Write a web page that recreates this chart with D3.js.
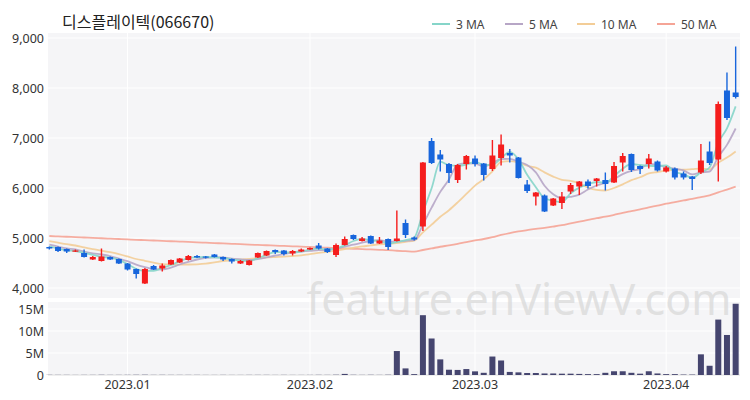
<!DOCTYPE html>
<html><head><meta charset="utf-8">
<script src="https://cdn.jsdelivr.net/npm/d3@7"></script>
<style>body{margin:0;background:#fff}svg{display:block}</style>
</head><body>
<svg id="c" width="750" height="400"></svg>
<script>
const title = "디스플레이텍(066670)";
const dates = ["12-20","12-21","12-22","12-23","12-26","12-27","12-28","12-29","12-30",
 "01-02","01-03","01-04","01-05","01-06","01-09","01-10","01-11","01-12","01-13",
 "01-16","01-17","01-18","01-19","01-20","01-25","01-26","01-27","01-30","01-31",
 "02-01","02-02","02-03","02-06","02-07","02-08","02-09","02-10","02-13","02-14","02-15","02-16","02-17",
 "02-20","02-21","02-22","02-23","02-24","02-27","02-28",
 "03-02","03-03","03-06","03-07","03-08","03-09","03-10","03-13","03-14","03-15","03-16","03-17",
 "03-20","03-21","03-22","03-23","03-24","03-27","03-28","03-29","03-30","03-31",
 "04-03","04-04","04-05","04-06","04-07","04-10","04-11","04-12","04-13"];
const openV  = [4820,4820,4780,4730,4700,4570,4540,4620,4580,4490,4380,4090,4440,4390,4470,4510,4560,4640,4630,4670,
 4620,4580,4490,4460,4610,4650,4760,4750,4690,4730,4770,4850,4790,4660,4860,5060,4940,5040,4890,4980,
 4940,5300,5010,5230,6940,6670,6480,6160,6480,6590,6490,6380,6600,6700,6610,6070,5830,5850,5650,5700,
 5930,6030,6130,6140,6160,6110,6510,6680,6440,6480,6530,6330,6390,6290,6230,6310,6730,6570,7950,7910];
const highV  = [4830,4830,4790,4770,4770,4640,4790,4630,4590,4500,4390,4400,4460,4490,4570,4600,4660,4660,4640,4680,
 4630,4590,4560,4560,4710,4750,4770,4760,4760,4790,4810,4900,4800,4890,5030,5070,5020,5050,5020,4990,
 5550,5370,5030,6520,7000,6760,6500,6480,6660,6650,6500,6960,7070,6780,6620,6160,5920,5870,5800,5920,
 6100,6140,6170,6200,6310,6520,6700,6690,6450,6680,6550,6440,6410,6330,6240,6880,6930,7730,8310,8830];
const lowV   = [4770,4720,4700,4720,4610,4560,4530,4560,4480,4350,4190,4080,4360,4330,4460,4500,4550,4600,4590,4610,
 4540,4490,4480,4450,4600,4640,4680,4650,4650,4720,4760,4770,4700,4620,4850,4960,4930,4880,4880,4760,
 4930,5000,4950,5140,6480,6330,6100,6100,6370,6430,6150,6340,6450,6510,6190,5900,5650,5520,5640,5580,
 5880,5860,5990,6030,5950,6100,6330,6320,6280,6390,6330,6310,6170,6170,5960,6280,6460,6130,7360,7790];
const closeV = [4790,4740,4730,4750,4620,4620,4630,4570,4490,4370,4280,4380,4370,4450,4560,4590,4640,4610,4610,4620,
 4570,4530,4540,4550,4700,4740,4720,4680,4740,4770,4800,4790,4720,4860,4980,4980,4990,4890,4950,4820,
 4990,5060,4970,6510,6500,6570,6300,6460,6640,6480,6260,6650,6870,6650,6200,5940,5910,5530,5790,5830,
 6060,6130,6040,6190,6080,6440,6640,6360,6380,6590,6350,6410,6210,6210,6180,6550,6500,7680,7400,7820];
// closes of the days just before the visible window (estimated from where the MA lines start)
const priorCloses = [5060,5040,5010,4990,4960,4930,4900,4870,4840];
const volumeM = [0.04,0.03,0.03,0.02,0.03,0.03,0.05,0.03,0.03,0.04,0.05,0.06,0.03,0.04,0.03,0.03,0.03,0.03,0.02,0.02,
 0.03,0.02,0.02,0.03,0.03,0.03,0.02,0.03,0.02,0.02,0.03,0.04,0.03,0.06,0.25,0.05,0.03,0.05,0.03,0.06,
 5.45,1.5,0.2,13.6,8.3,3.55,1.2,1.15,1.35,0.83,0.5,4.2,3.3,0.7,0.6,0.45,0.45,0.35,0.35,0.3,
 0.3,0.25,0.2,0.2,0.5,0.85,0.85,0.5,0.3,0.85,0.35,0.2,0.2,0.1,0.1,4.7,2.1,12.6,9.1,16.2];
const ma50 = [5040,5032,5025,5017,5010,5003,4995,4987,4980,4972,4964,4957,4950,4943,4935,4928,4921,4913,4906,4899,
 4891,4884,4877,4869,4862,4855,4848,4841,4834,4827,4820,4813,4806,4799,4792,4785,4778,4771,4764,4757,
 4745,4737,4729,4760,4792,4825,4853,4884,4919,4951,4980,5018,5061,5099,5131,5157,5183,5202,5228,5257,
 5293,5328,5361,5396,5426,5463,5503,5538,5573,5612,5648,5686,5719,5752,5782,5818,5854,5914,5967,6028];
const priceTicks = [4000,5000,6000,7000,8000,9000];
const volTicks = [0,5,10,15];
const xTickIdx = [9,30,49,71];
const xTickLabels = ["2023.01","2023.02","2023.03","2023.04"];
const maNames = ["3 MA","5 MA","10 MA","50 MA"];
const maColors = ["#86d5c9","#b7a6c6","#f3cd97","#f5a496"];

const svg = d3.select("#c");
const L = 45, R = 740;
const x = d3.scaleBand().domain(dates).range([L, R]).padding(0);
const cx = i => x(dates[i]) + x.bandwidth()/2;
const y = d3.scaleLinear().domain([3800, 9100]).range([298, 33]);
const yv = d3.scaleLinear().domain([0, 16.6]).range([375, 302]);
const up = "#f51d1d", down = "#1765dc";

// panels
svg.append("rect").attr("x",L+3).attr("y",y(9100)).attr("width",R-L-3).attr("height",y(3800)-y(9100)).attr("fill","#f5f5f7");
svg.append("rect").attr("x",L+3).attr("y",yv(16.6)).attr("width",R-L-3).attr("height",yv(0)-yv(16.6)).attr("fill","#f5f5f7");

// gridlines
svg.append("g").selectAll("line").data(priceTicks).join("line")
  .attr("x1",L+3).attr("x2",R).attr("y1",d=>y(d)).attr("y2",d=>y(d)).attr("stroke","#fff").attr("stroke-width",1);
svg.append("g").selectAll("line").data(volTicks).join("line")
  .attr("x1",L+3).attr("x2",R).attr("y1",d=>yv(d)).attr("y2",d=>yv(d)).attr("stroke",d=>d===0?"#ddd":"#fff").attr("stroke-width",1);
svg.append("g").selectAll("line").data(xTickIdx).join("line")
  .attr("x1",d=>cx(d)).attr("x2",d=>cx(d)).attr("y1",y(9100)).attr("y2",y(3800)).attr("stroke","#fff").attr("stroke-width",1);
svg.append("g").selectAll("line").data(xTickIdx).join("line")
  .attr("x1",d=>cx(d)).attr("x2",d=>cx(d)).attr("y1",yv(16.6)).attr("y2",yv(0)).attr("stroke","#fff").attr("stroke-width",1);

// watermark
svg.append("text").attr("x",519).attr("y",315).attr("text-anchor","middle")
  .attr("font-family","'Noto Sans', sans-serif").attr("font-size",43)
  .attr("fill","#d9d9d9").attr("fill-opacity",0.75).text("feature.enViewV.com");

// axes labels
const fnt = "'Noto Sans', 'DejaVu Sans', sans-serif";
svg.append("g").selectAll("text").data(priceTicks).join("text")
  .attr("x",44).attr("y",d=>y(d)+4.5).attr("text-anchor","end").attr("font-family",fnt).attr("font-size",12.5)
  .attr("fill","#333").text(d=>d3.format(",")(d));
svg.append("g").selectAll("text").data(volTicks).join("text")
  .attr("x",44).attr("y",d=>yv(d)+4.5).attr("text-anchor","end").attr("font-family",fnt).attr("font-size",12.5)
  .attr("fill","#333").text(d=>d===0?"0":d+"M");
svg.append("g").selectAll("text").data(xTickIdx).join("text")
  .attr("x",d=>cx(d)).attr("y",389).attr("text-anchor","middle").attr("font-family",fnt).attr("font-size",12.5)
  .attr("fill","#333").text((d,i)=>xTickLabels[i]);

// moving averages
const allC = priorCloses.concat(closeV);
const off = priorCloses.length;
function ma(n){ return closeV.map((c,i)=>d3.mean(allC.slice(i+off-n+1, i+off+1))); }
const maSeries = [ma(3), ma(5), ma(10), ma50];
const line = d3.line().x((d,i)=>cx(i)).y(d=>y(d)).curve(d3.curveMonotoneX);
[3,2,1,0].forEach(k=>{
  svg.append("path").attr("d",line(maSeries[k])).attr("fill","none")
    .attr("stroke",maColors[k]).attr("stroke-width",1.8).attr("stroke-opacity",0.9);
});

// candles
const bw = 6;
const g = svg.append("g");
closeV.forEach((c,i)=>{
  const o = openV[i], col = c>=o ? up : down;
  g.append("line").attr("x1",cx(i)).attr("x2",cx(i)).attr("y1",y(highV[i])).attr("y2",y(lowV[i]))
    .attr("stroke",col).attr("stroke-width",1.4);
  const top = y(Math.max(o,c)), bot = y(Math.min(o,c));
  g.append("rect").attr("x",cx(i)-bw/2).attr("y",top).attr("width",bw).attr("height",Math.max(1.2,bot-top)).attr("fill",col);
});

// volume bars
svg.append("g").selectAll("rect").data(volumeM).join("rect")
  .attr("x",(d,i)=>cx(i)-3).attr("width",6).attr("y",d=>yv(d)).attr("height",d=>yv(0)-yv(d)).attr("fill","#45456f");

// title
svg.append("text").attr("x",62).attr("y",28).attr("font-family","'Noto Sans CJK KR', 'Noto Sans', sans-serif")
  .attr("font-size",16).attr("fill","#222").text(title);

// legend
const legX = [432, 505, 577, 657];
maNames.forEach((n,k)=>{
  svg.append("line").attr("x1",legX[k]).attr("x2",legX[k]+18).attr("y1",24).attr("y2",24)
    .attr("stroke",maColors[k]).attr("stroke-width",2);
  svg.append("text").attr("x",legX[k]+24).attr("y",28.5).attr("font-family",fnt).attr("font-size",12)
    .attr("fill","#444").text(n);
});
</script>
</body></html>
